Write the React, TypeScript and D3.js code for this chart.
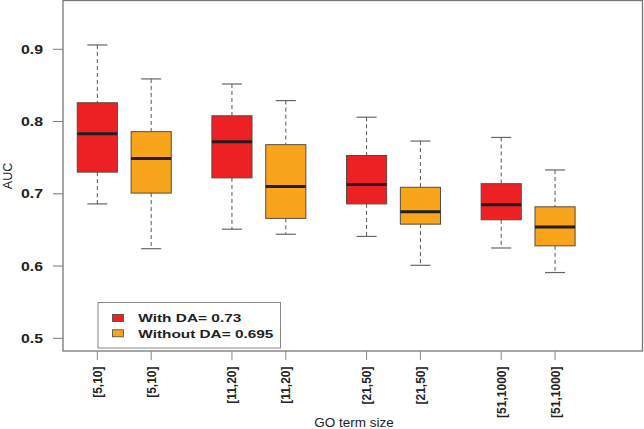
import React from "react";
import * as d3 from "d3";

const categories = ["[5,10]", "[5,10]", "[11,20]", "[11,20]", "[21,50]", "[21,50]", "[51,1000]", "[51,1000]"];
const positions = [1, 2, 3.5, 4.5, 6, 7, 8.5, 9.5];
const series = ["with", "without", "with", "without", "with", "without", "with", "without"];
const whiskerLow = [0.686, 0.624, 0.651, 0.644, 0.641, 0.601, 0.625, 0.591];
const q1 = [0.730, 0.701, 0.722, 0.666, 0.686, 0.658, 0.664, 0.628];
const median = [0.783, 0.749, 0.772, 0.710, 0.713, 0.675, 0.685, 0.654];
const q3 = [0.826, 0.786, 0.808, 0.768, 0.753, 0.709, 0.714, 0.682];
const whiskerHigh = [0.906, 0.859, 0.852, 0.829, 0.806, 0.773, 0.778, 0.733];
const yTicks = [0.5, 0.6, 0.7, 0.8, 0.9];
const legendLabels = ["With DA= 0.73", "Without DA= 0.695"];
const legendKeys = ["with", "without"];

const colors: Record<string, string> = { with: "#ED2024", without: "#F9A51B" };

const W = 644;
const H = 429;
const left = 63;
const right = 642.5;
const top = 0.5;
const bottom = 351;

export default function App() {
  const x = d3.scaleLinear().domain([0.3625, 11.124]).range([left, right]);
  const y = d3.scaleLinear().domain([0.5, 0.9]).range([338.3, 49.3]);
  const bw = x(0.745) - x(0);
  const capW = bw / 2;
  const font = "'Liberation Sans', Arial, Helvetica, sans-serif";
  const legendLen = [103, 135];

  return (
    <svg width={W} height={H} style={{ position: "absolute", left: 0, top: 0, background: "#fff" }} fontFamily={font}>
      <rect x={0} y={0} width={W} height={H} fill="#fff" />
      {positions.map((p, i) => {
        const cx = x(p);
        return (
          <g key={i}>
            <line x1={cx} x2={cx} y1={y(whiskerHigh[i])} y2={y(q3[i])} stroke="#555" strokeWidth={1} strokeDasharray="4,3" />
            <line x1={cx} x2={cx} y1={y(q1[i])} y2={y(whiskerLow[i])} stroke="#555" strokeWidth={1} strokeDasharray="4,3" />
            <line x1={cx - capW / 2} x2={cx + capW / 2} y1={y(whiskerHigh[i])} y2={y(whiskerHigh[i])} stroke="#666" strokeWidth={1.2} />
            <line x1={cx - capW / 2} x2={cx + capW / 2} y1={y(whiskerLow[i])} y2={y(whiskerLow[i])} stroke="#666" strokeWidth={1.2} />
            <rect x={cx - bw / 2} y={y(q3[i])} width={bw} height={y(q1[i]) - y(q3[i])} fill={colors[series[i]]} stroke="#5a4a40" strokeWidth={1} />
            <line x1={cx - bw / 2} x2={cx + bw / 2} y1={y(median[i])} y2={y(median[i])} stroke="#231F20" strokeWidth={3} />
          </g>
        );
      })}
      <rect x={left} y={top} width={right - left} height={bottom - top} fill="none" stroke="#777" strokeWidth={1.3} />
      {yTicks.map((t) => (
        <g key={t}>
          <line x1={53} x2={left} y1={y(t)} y2={y(t)} stroke="#777" strokeWidth={1} />
          <text x={21} y={y(t)} dy="0.36em" fontSize={13} fontWeight="bold" fill="#222" textLength={22} lengthAdjust="spacingAndGlyphs">
            {t.toFixed(1)}
          </text>
        </g>
      ))}
      <text transform={`translate(12,176) rotate(-90)`} textAnchor="middle" fontSize={12.5} fill="#222">AUC</text>
      {positions.map((p, i) => (
        <g key={"xt" + i}>
          <line x1={x(p)} x2={x(p)} y1={bottom} y2={360} stroke="#888" strokeWidth={1} />
          <text transform={`translate(${x(p) + 4.5},366.5) rotate(-90)`} textAnchor="end" fontSize={12} fontWeight="bold" fill="#222">
            {categories[i]}
          </text>
        </g>
      ))}
      <text x={354} y={427} textAnchor="middle" fontSize={13.5} fill="#222">GO term size</text>
      <rect x={98} y={302.5} width={182.5} height={45.5} fill="#fff" stroke="#888" strokeWidth={1} />
      {legendKeys.map((k, i) => (
        <g key={k}>
          <rect x={112.5} y={314.5 + i * 15.3} width={11} height={7} fill={colors[k]} stroke="#444" strokeWidth={0.8} />
          <text x={138.3} y={322.3 + i * 15.4} fontSize={11.8} fontWeight="bold" fill="#222" textLength={legendLen[i]} lengthAdjust="spacingAndGlyphs">
            {legendLabels[i]}
          </text>
        </g>
      ))}
    </svg>
  );
}
